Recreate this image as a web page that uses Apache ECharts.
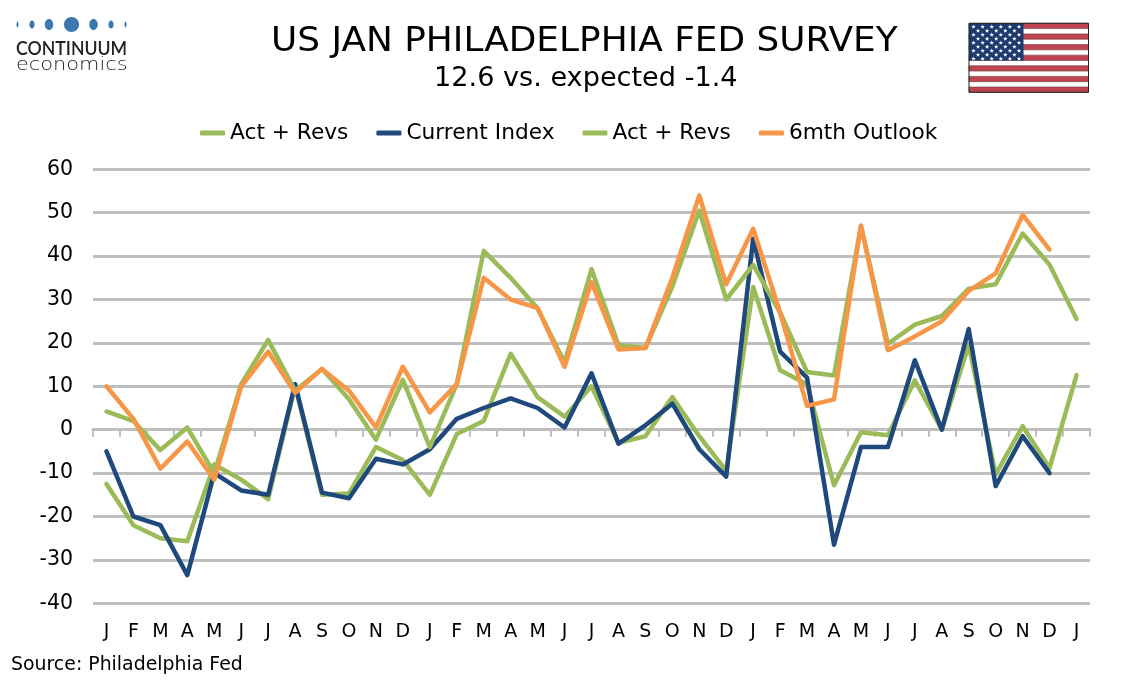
<!DOCTYPE html>
<html><head><meta charset="utf-8">
<style>html,body{margin:0;padding:0;background:#fff}#c{width:1134px;height:680px}</style>
<script src="https://cdn.jsdelivr.net/npm/echarts@6/dist/echarts.min.js"></script>
</head><body><div id="c"></div>
<script>
const months = ['J','F','M','A','M','J','J','A','S','O','N','D','J','F','M','A','M','J','J','A','S','O','N','D','J','F','M','A','M','J','J','A','S','O','N','D','J'];
const actRevsCurrent = [-12.5,-22,-25,-25.7,-8,-11.5,-16,10,-15,-14.7,-4,-7,-15,-1,2,17.5,7.5,3,10,-3,-1.5,7.5,-1.5,-9.5,32.9,13.7,10.5,-12.8,-0.6,-1.3,11.4,0,19.5,-10.3,0.8,-8.8,12.6];
const currentIndex = [-5,-20,-22,-33.5,-10,-14,-15,10.5,-14.5,-15.8,-6.7,-8,-4.5,2.5,5,7.2,5,0.5,13,-3.2,1,6,-4.5,-10.8,44,18,12,-26.5,-4,-4,16,0,23.2,-13,-1.5,-10,null];
const actRevsOutlook = [4.2,2,-4.7,0.5,-10,10.5,20.7,9,14,7,-2.3,11.5,-4,10.5,41.2,35,28,15.5,37,19.5,18.8,33,50.5,30,38,27,13.3,12.5,47,19.8,24.2,26.2,32.5,33.5,45.2,38,25.5];
const outlook = [10,2.5,-9,-2.7,-11.5,10,18,8.5,14,9,0.5,14.5,4,10.5,35,30,28,14.5,34,18.5,18.8,35,54,33.5,46.3,27,5.5,7,47,18.3,21.5,25,32,36,49.5,41.5,null];
const legendNames = ['Act + Revs','Current Index','Act + Revs ','6mth Outlook'];
const yTicks = {min:-40,max:60,interval:10};
const FONT = '"DejaVu Sans"';
const GREEN='#9BBB59', NAVY='#1F497D', ORANGE='#F79646', GRID='#BFBFBF';

function starPoints(cx,cy,R){
  const p=[];
  for(let i=0;i<10;i++){
    const r=i%2?R*0.42:R, a=-Math.PI/2+i*Math.PI/5;
    p.push([cx+r*Math.cos(a),cy+r*Math.sin(a)]);
  }
  return p;
}
function flag(){
  const x0=969,y0=23.3,w=119.5,h=69,sh=h/13,els=[];
  els.push({type:'rect',shape:{x:x0,y:y0,width:w,height:h},style:{fill:'#fff'}});
  for(let i=0;i<13;i+=2){
    els.push({type:'rect',shape:{x:x0,y:y0+i*sh,width:w,height:sh},style:{fill:'#C0444F',stroke:'#6b3a3e',lineWidth:0.6}});
  }
  els.push({type:'rect',shape:{x:x0,y:y0,width:54.5,height:sh*7},style:{fill:'#1C3A6E'}});
  for(let r=0;r<9;r++){
    const n=r%2?5:6;
    for(let c=0;c<n;c++){
      const cx=x0+4.5+(r%2?4.5:0)+c*9.1, cy=y0+3.6+r*4;
      els.push({type:'polygon',shape:{points:starPoints(cx,cy,2.3)},style:{fill:'#fff'}});
    }
  }
  els.push({type:'rect',shape:{x:x0,y:y0,width:w,height:h},style:{fill:'none',stroke:'#222',lineWidth:1}});
  return els;
}
function logo(){
  const dots=[[17.5,1,3],[32,2.6,4],[49,4.2,5.5],[71.5,7.5,7.5],[93.5,4.2,5.5],[111,2.6,4],[125.5,1,3]];
  const els=dots.map(d=>({type:'ellipse',shape:{cx:d[0],cy:24.5,rx:d[1],ry:d[2]},style:{fill:'#3A78AE'}}));
  els.push({type:'text',x:16,y:39,scaleX:0.93,style:{text:'CONTINUUM',font:'600 19px Lato',fill:'#222'}});
  els.push({type:'text',x:16,y:56,scaleX:1.16,style:{text:'economics',font:'300 18px "DejaVu Sans"',fill:'#222'}});
  return els;
}
const lw=4.5;
function line(name,data,color,axis){
  return {name,type:'line',data,xAxisIndex:axis,yAxisIndex:0,symbol:'none',connectNulls:false,smooth:false,
    lineStyle:{color,width:lw,join:'round',cap:'round'},itemStyle:{color}};
}
const chart=echarts.init(document.getElementById('c'),null,{renderer:'canvas'});
chart.setOption({
  animation:false,backgroundColor:'#fff',
  legend:{top:117,left:195,itemWidth:25,itemHeight:5,itemGap:28,icon:'roundRect',
    data:legendNames,formatter:n=>n.trim(),
    textStyle:{fontFamily:FONT,fontSize:21.7,color:'#000',padding:[0,0,0,0]}},
  grid:{left:93,right:44,top:169.3,bottom:76.7,containLabel:false},
  xAxis:[
    {type:'category',data:months,position:'bottom',axisLine:{show:false,onZero:false},axisTick:{show:false},
     axisLabel:{interval:0,margin:19,fontFamily:FONT,fontSize:19,color:'#000'},splitLine:{show:false}},
    {type:'category',data:months,position:'bottom',axisLine:{show:true,onZero:true,lineStyle:{color:GRID,width:3}},
     axisTick:{show:true,length:7,interval:0,lineStyle:{color:GRID,width:2}},axisLabel:{show:false},splitLine:{show:false}}
  ],
  yAxis:{type:'value',min:yTicks.min,max:yTicks.max,interval:yTicks.interval,axisLine:{show:false},axisTick:{show:false},
    axisLabel:{margin:20,fontFamily:FONT,fontSize:20.5,color:'#000'},
    splitLine:{show:true,lineStyle:{color:GRID,width:3}}},
  series:[
    line(legendNames[0],actRevsCurrent,GREEN,0),
    line(legendNames[1],currentIndex,NAVY,1),
    line(legendNames[2],actRevsOutlook,GREEN,1),
    line(legendNames[3],outlook,ORANGE,1)
  ],
  graphic:[].concat(logo(),flag(),[
    {type:'text',x:271,y:25,scaleX:1.04,style:{text:'US JAN PHILADELPHIA FED SURVEY',font:'34.5px "DejaVu Sans"',fill:'#000'}},
    {type:'text',x:434,y:66,scaleX:1.043,style:{text:'12.6 vs. expected -1.4',font:'26px "DejaVu Sans"',fill:'#000'}},
    {type:'text',x:11,y:656,style:{text:'Source: Philadelphia Fed',font:'18.9px "DejaVu Sans"',fill:'#000'}}
  ])
});
</script></body></html>
